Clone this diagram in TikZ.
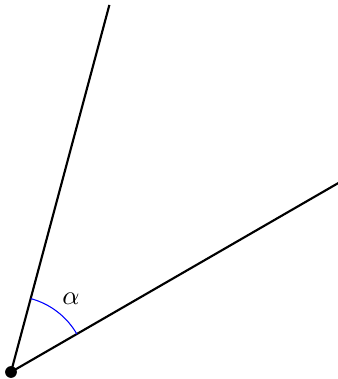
\documentclass[tikz,border=0pt]{standalone}
\begin{document}
\begin{tikzpicture}[
  ray/.style={thick,black},
  anglearc/.style={blue,line width=0.4pt}]
\useasboundingbox (-0.145,-0.092) rectangle (4.302,4.895);
\coordinate (O) at (0,0);
\coordinate (A) at (75:5);
\coordinate (B) at (30:5);
\draw[ray] (O) -- (A);
\draw[ray] (O) -- (B);
\draw[anglearc] (30:1) arc[start angle=30,end angle=75,radius=1];
\node (alpha) at (0.79,0.97) {$\alpha$};
\fill (O) circle (2.2pt);
\end{tikzpicture}
\end{document}
